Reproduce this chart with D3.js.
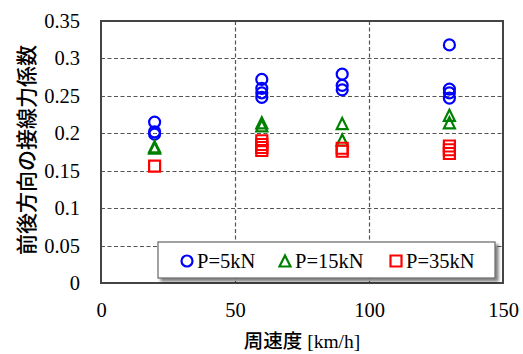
<!DOCTYPE html>
<html>
<head>
<meta charset="utf-8">
<script src="https://cdn.jsdelivr.net/npm/d3@7"></script>
<style>
  html, body { margin: 0; padding: 0; background: #fff; }
  svg { display: block; }
</style>
</head>
<body>
<svg id="chart" width="523" height="354"></svg>
<script>
// Peripheral speed [km/h] and tangential force coefficient per load case
const speeds = [20, 60, 90, 130];
const p5Speed  = [20, 20, 20, 60, 60, 60, 60, 90, 90, 90, 130, 130, 130, 130];
const p5Value  = [0.215, 0.202, 0.199, 0.272, 0.260, 0.254, 0.248, 0.279, 0.264, 0.258, 0.318, 0.259, 0.254, 0.247];
const p15Speed = [20, 20, 60, 60, 90, 90, 130, 130];
const p15Value = [0.182, 0.180, 0.214, 0.210, 0.213, 0.191, 0.224, 0.214];
const p35Speed = [20, 60, 60, 60, 60, 90, 90, 130, 130, 130];
const p35Value = [0.156, 0.190, 0.185, 0.181, 0.177, 0.180, 0.176, 0.183, 0.178, 0.173];
const xTicks = [0, 50, 100, 150];
const yTicks = [0, 0.05, 0.1, 0.15, 0.2, 0.25, 0.3, 0.35];
const seriesNames = ["P=5kN", "P=15kN", "P=35kN"];

const series = [
  { name: seriesNames[0], xs: p5Speed,  ys: p5Value,  shape: "circle",   color: "#0000ff" },
  { name: seriesNames[1], xs: p15Speed, ys: p15Value, shape: "triangle", color: "#008000" },
  { name: seriesNames[2], xs: p35Speed, ys: p35Value, shape: "square",   color: "#ff0000" }
];

const svg = d3.select("#chart");
const plot = { left: 101, right: 503, top: 21, bottom: 283 };

const x = d3.scaleLinear().domain([0, 150]).range([plot.left, plot.right]);
const y = d3.scaleLinear().domain([0, 0.35]).range([plot.bottom, plot.top]);

const serif = "'Liberation Serif', 'Times New Roman', serif";
const gothic = "'Noto Sans CJK JP', 'Noto Sans', sans-serif";

// shadow filter for the legend box
const defs = svg.append("defs");
const f = defs.append("filter").attr("id", "shadow").attr("x", "-10%").attr("y", "-30%").attr("width", "130%").attr("height", "180%");
f.append("feGaussianBlur").attr("in", "SourceAlpha").attr("stdDeviation", 1.5);
f.append("feOffset").attr("dx", 3).attr("dy", 3).attr("result", "ob");
f.append("feComponentTransfer").append("feFuncA").attr("type", "linear").attr("slope", 0.5);
const fm = f.append("feMerge");
fm.append("feMergeNode");
fm.append("feMergeNode").attr("in", "SourceGraphic");

// gridlines
const grid = svg.append("g");
grid.selectAll("line.h").data(yTicks.filter(d => d > 0 && d < 0.35)).enter().append("line")
  .attr("x1", plot.left).attr("x2", plot.right)
  .attr("y1", d => Math.round(y(d)) + 0.5).attr("y2", d => Math.round(y(d)) + 0.5)
  .attr("stroke", "#555").attr("stroke-width", 1.2).attr("stroke-dasharray", "4,2.5");
grid.selectAll("line.v").data(xTicks.filter(d => d > 0 && d < 150)).enter().append("line")
  .attr("y1", plot.top).attr("y2", plot.bottom)
  .attr("x1", d => Math.round(x(d)) + 0.5).attr("x2", d => Math.round(x(d)) + 0.5)
  .attr("stroke", "#555").attr("stroke-width", 1.2).attr("stroke-dasharray", "4,2.5");

// plot frame
svg.append("rect")
  .attr("x", plot.left).attr("y", plot.top)
  .attr("width", plot.right - plot.left).attr("height", plot.bottom - plot.top)
  .attr("fill", "none").attr("stroke", "#444").attr("stroke-width", 2);

// axes (labels only, ticks hidden)
const xAxis = d3.axisBottom(x).tickValues(xTicks).tickSize(0).tickPadding(0).tickFormat(d3.format("d"));
const gx = svg.append("g").attr("transform", `translate(0,${plot.bottom + 19})`).call(xAxis);
gx.select(".domain").remove();
gx.selectAll("text").attr("font-family", serif).attr("font-size", 20.5).attr("fill", "#000").attr("dy", "0.71em");

const yAxis = d3.axisLeft(y).tickValues(yTicks).tickSize(0).tickPadding(0).tickFormat(d => d === 0 ? "0" : d3.format("")(+d.toFixed(2)));
const gy = svg.append("g").attr("transform", `translate(${plot.left - 21},0)`).call(yAxis);
gy.select(".domain").remove();
gy.selectAll("text").attr("font-family", serif).attr("font-size", 20.5).attr("fill", "#000");

// marker drawing
const sym = {
  circle: d3.symbol().type(d3.symbolCircle).size(Math.PI * 5.5 * 5.5),
  square: d3.symbol().type(d3.symbolSquare).size(11 * 11)
};
function marker(g, shape, color, cx, cy) {
  if (shape === "triangle") {
    const s = 11;
    g.append("path")
      .attr("d", `M${cx},${cy - s / 2}L${cx + s / 2},${cy + s / 2}L${cx - s / 2},${cy + s / 2}Z`)
      .attr("fill", "none").attr("stroke", color).attr("stroke-width", 2.2);
  } else {
    g.append("path").attr("d", sym[shape]())
      .attr("transform", `translate(${cx},${cy})`)
      .attr("fill", "none").attr("stroke", color).attr("stroke-width", 2.2);
  }
}

// data points
series.forEach(s => {
  const g = svg.append("g");
  s.xs.forEach((xv, i) => marker(g, s.shape, s.color, x(xv), y(s.ys[i])));
});

// legend
const lg = svg.append("g");
lg.append("rect").attr("x", 158).attr("y", 242).attr("width", 337).attr("height", 36)
  .attr("fill", "#fff").attr("stroke", "#666").attr("stroke-width", 1.2).attr("filter", "url(#shadow)");
const legendX = [187, 285, 396];
series.forEach((s, i) => {
  marker(lg, s.shape, s.color, legendX[i], 261);
  lg.append("text").attr("x", legendX[i] + 10).attr("y", 268)
    .attr("font-family", serif).attr("font-size", 20.5).attr("fill", "#000").text(s.name);
});

// axis titles
const xt = svg.append("text").attr("x", 302).attr("y", 348).attr("text-anchor", "middle").attr("fill", "#000");
xt.append("tspan").attr("font-family", gothic).attr("font-size", 19.5).attr("font-weight", 500).text("周速度");
xt.append("tspan").attr("font-family", serif).attr("font-size", 19.5).text(" [km/h]");

svg.append("text")
  .attr("transform", `translate(34,${(plot.top + plot.bottom) / 2 - 2}) rotate(-90)`)
  .attr("text-anchor", "middle")
  .attr("font-family", gothic).attr("font-size", 21).attr("font-weight", 500).attr("fill", "#000")
  .text("前後方向の接線力係数");
</script>
</body>
</html>
